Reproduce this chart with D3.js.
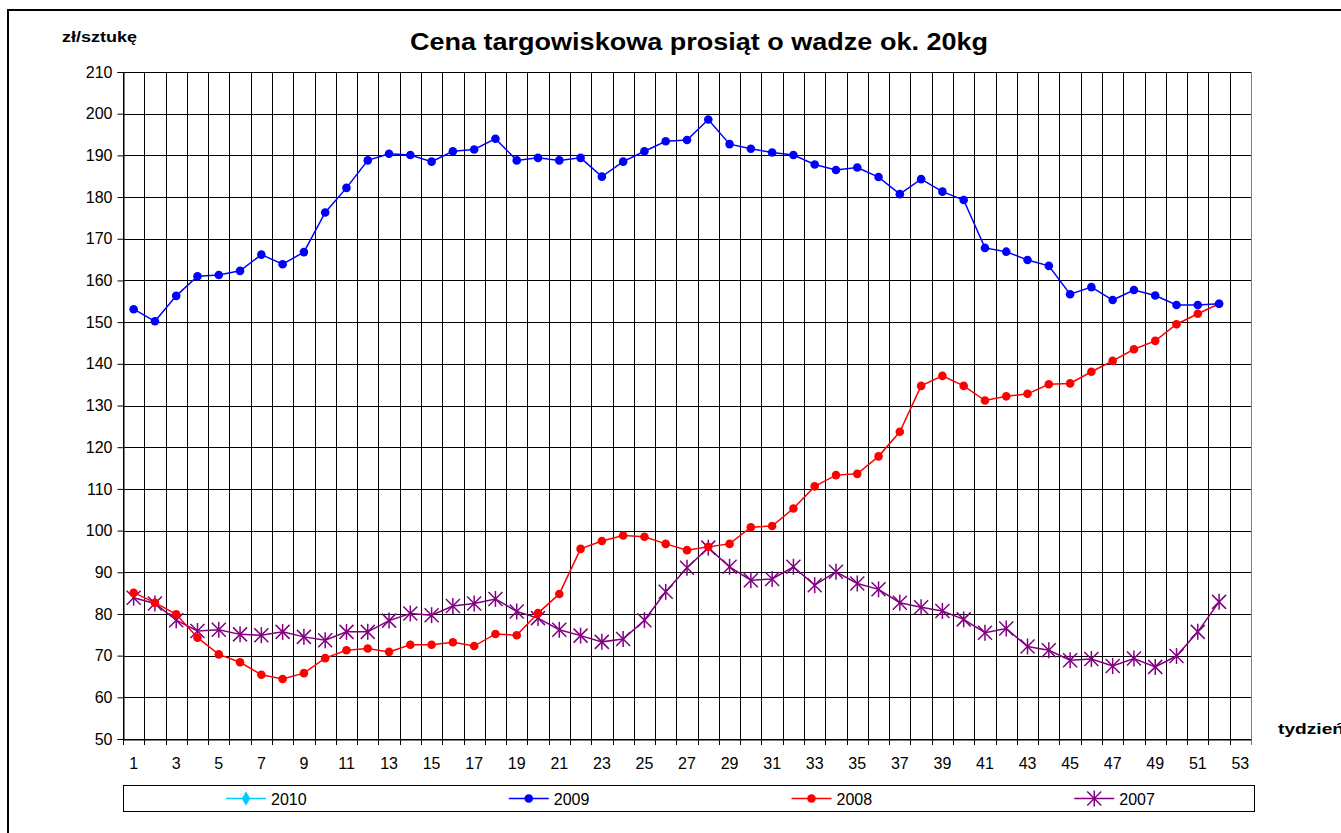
<!DOCTYPE html>
<html>
<head>
<meta charset="utf-8">
<script src="https://cdn.jsdelivr.net/npm/d3@7"></script>
<style>
body { margin: 0; background: #fff; }
svg { font-family: "Liberation Sans", Arial, sans-serif; }
</style>
</head>
<body>
<script>
var weeks = d3.range(1, 54);
var yTicks = d3.range(50, 211, 10);
var xLabels = d3.range(1, 54, 2);
var legendNames = ["2010", "2009", "2008", "2007"];

var s2010 = [];
var s2009 = [153.1, 150.2, 156.3, 161.0, 161.3, 162.3, 166.2, 163.9, 166.8, 176.3,
    182.2, 188.8, 190.4, 190.1, 188.5, 191.0, 191.4, 194.0, 188.8, 189.4,
    188.8, 189.4, 184.9, 188.5, 191.0, 193.4, 193.7, 198.6, 192.7, 191.6,
    190.7, 190.1, 187.8, 186.5, 187.1, 184.8, 180.7, 184.3, 181.3, 179.3,
    167.8, 166.9, 164.9, 163.5, 156.7, 158.4, 155.3, 157.7, 156.4, 154.1,
    154.1, 154.4];
var s2008 = [85.1, 82.7, 79.9, 74.3, 70.3, 68.4, 65.4, 64.4, 65.8, 69.4,
    71.3, 71.7, 70.9, 72.6, 72.6, 73.2, 72.3, 75.2, 74.9, 80.2,
    84.8, 95.6, 97.5, 98.8, 98.5, 96.8, 95.3, 96.1, 96.8, 100.8,
    101.1, 105.3, 110.6, 113.3, 113.6, 117.8, 123.7, 134.7, 137.1, 134.7,
    131.2, 132.2, 132.8, 135.1, 135.3, 138.1, 140.7, 143.5, 145.5, 149.5,
    152.0, 154.4];
var s2007 = [83.9, 82.5, 78.5, 75.9, 76.2, 75.1, 74.9, 75.7, 74.5, 73.7,
    75.7, 75.7, 78.4, 80.1, 79.7, 81.9, 82.5, 83.6, 80.6, 79.0,
    76.2, 74.8, 73.3, 74.0, 78.5, 85.3, 91.1, 95.9, 91.3, 88.1,
    88.4, 91.3, 86.9, 90.1, 87.3, 85.9, 82.7, 81.6, 80.7, 78.7,
    75.5, 76.5, 72.2, 71.3, 68.9, 69.2, 67.5, 69.3, 67.3, 69.9,
    75.7, 82.9];

var W = 1341, H = 833;
var pLeft = 123, pRight = 1251, pTop = 72, pBottom = 739;

var svg = d3.select("body").append("svg")
    .attr("width", W)
    .attr("height", H);

// outer frame
svg.append("rect")
    .attr("x", 8).attr("y", 10)
    .attr("width", 1400).attr("height", 900)
    .attr("fill", "none")
    .attr("stroke", "#000")
    .attr("stroke-width", 2);

var x = d3.scaleBand().domain(weeks).range([pLeft, pRight]);
var y = d3.scaleLinear().domain([50, 210]).range([pBottom, pTop]);
var cx = function (w) { return x(w) + x.bandwidth() / 2; };

// horizontal grid
svg.append("g")
    .selectAll("line")
    .data(yTicks)
    .enter()
    .append("line")
    .attr("x1", pLeft).attr("x2", pRight)
    .attr("y1", function (d) { return Math.round(y(d)) + 0.5; })
    .attr("y2", function (d) { return Math.round(y(d)) + 0.5; })
    .attr("stroke", "#000")
    .attr("stroke-width", 1);

// vertical grid at category boundaries
var bounds = weeks.map(function (w) { return x(w); }).concat([pRight]);
svg.append("g")
    .selectAll("line")
    .data(bounds)
    .enter()
    .append("line")
    .attr("x1", function (d) { return Math.round(d) + 0.5; })
    .attr("x2", function (d) { return Math.round(d) + 0.5; })
    .attr("y1", pTop).attr("y2", pBottom + 6)
    .attr("stroke", function (d, i) { return i == bounds.length - 1 ? "#808080" : "#000"; })
    .attr("stroke-width", 1);

// y axis
var yAxis = d3.axisLeft(y).tickValues(yTicks).tickSize(6).tickPadding(5);
var gy = svg.append("g")
    .attr("transform", "translate(" + (pLeft + 0.5) + ",0)")
    .call(yAxis);
gy.select(".domain").attr("stroke", "#000");
gy.selectAll("text")
    .attr("font-size", "16px")
    .attr("font-family", "Liberation Sans, Arial, sans-serif")
    .attr("fill", "#000");

// x axis labels
var xAxis = d3.axisBottom(x).tickValues(xLabels).tickSize(0).tickPadding(18);
var gx = svg.append("g")
    .attr("transform", "translate(0," + (pBottom + 0.5) + ")")
    .call(xAxis);
gx.select(".domain").attr("stroke", "#000");
gx.selectAll("text")
    .attr("font-size", "16px")
    .attr("font-family", "Liberation Sans, Arial, sans-serif")
    .attr("fill", "#000");

var line = d3.line()
    .x(function (d, i) { return cx(weeks[i]); })
    .y(function (d) { return y(d); });

function drawStar(g, px, py, col) {
    var r = 7;
    g.append("line").attr("x1", px).attr("x2", px).attr("y1", py - r - 1).attr("y2", py + r + 1)
        .attr("stroke", col).attr("stroke-width", 1.5);
    g.append("line").attr("x1", px - r).attr("x2", px + r).attr("y1", py - r).attr("y2", py + r)
        .attr("stroke", col).attr("stroke-width", 1.5);
    g.append("line").attr("x1", px - r).attr("x2", px + r).attr("y1", py + r).attr("y2", py - r)
        .attr("stroke", col).attr("stroke-width", 1.5);
}

// 2007
var g7 = svg.append("g");
g7.append("path").datum(s2007).attr("d", line)
    .attr("fill", "none").attr("stroke", "#800080").attr("stroke-width", 1.5);
s2007.forEach(function (d, i) { drawStar(g7, cx(weeks[i]), y(d), "#800080"); });

// 2008
var g8 = svg.append("g");
g8.append("path").datum(s2008).attr("d", line)
    .attr("fill", "none").attr("stroke", "#ff0000").attr("stroke-width", 1.5);
g8.selectAll("circle").data(s2008).enter().append("circle")
    .attr("cx", function (d, i) { return cx(weeks[i]); })
    .attr("cy", function (d) { return y(d); })
    .attr("r", 4.3).attr("fill", "#ff0000");

// 2009
var g9 = svg.append("g");
g9.append("path").datum(s2009).attr("d", line)
    .attr("fill", "none").attr("stroke", "#0000ff").attr("stroke-width", 1.5);
g9.selectAll("circle").data(s2009).enter().append("circle")
    .attr("cx", function (d, i) { return cx(weeks[i]); })
    .attr("cy", function (d) { return y(d); })
    .attr("r", 4.3).attr("fill", "#0000ff");

// 2010 (no data)
svg.append("g").append("path").datum(s2010).attr("d", line)
    .attr("fill", "none").attr("stroke", "#00ccff");

// titles
svg.append("text").text("Cena targowiskowa prosiąt o wadze ok. 20kg")
    .attr("x", 699).attr("y", 50)
    .attr("text-anchor", "middle")
    .attr("font-size", "24px").attr("font-weight", "bold")
    .attr("textLength", 578).attr("lengthAdjust", "spacingAndGlyphs");
svg.append("text").text("zł/sztukę")
    .attr("x", 62).attr("y", 42)
    .attr("font-size", "14px").attr("font-weight", "bold")
    .attr("textLength", 75).attr("lengthAdjust", "spacingAndGlyphs");
svg.append("text").text("tydzień")
    .attr("x", 1278).attr("y", 734)
    .attr("font-size", "14px").attr("font-weight", "bold")
    .attr("textLength", 66).attr("lengthAdjust", "spacingAndGlyphs");

// legend
var lg = svg.append("g");
lg.append("rect")
    .attr("x", 123.5).attr("y", 785.5)
    .attr("width", 1131).attr("height", 26)
    .attr("fill", "#fff").attr("stroke", "#000").attr("stroke-width", 1);
var cols = ["#00ccff", "#0000ff", "#ff0000", "#800080"];
var slot = 1131 / 4;
legendNames.forEach(function (name, i) {
    var lx = 123 + i * slot + 103;
    var ly = 798.5;
    lg.append("line").attr("x1", lx).attr("x2", lx + 40).attr("y1", ly).attr("y2", ly)
        .attr("stroke", cols[i]).attr("stroke-width", 1.5);
    if (i == 0) {
        lg.append("path").attr("d", d3.symbol().type(d3.symbolDiamond).size(60)())
            .attr("transform", "translate(" + (lx + 20) + "," + ly + ")")
            .attr("fill", cols[i]);
    } else if (i == 3) {
        drawStar(lg, lx + 20, ly, cols[i]);
    } else {
        lg.append("circle").attr("cx", lx + 20).attr("cy", ly).attr("r", 4.3).attr("fill", cols[i]);
    }
    lg.append("text").text(name)
        .attr("x", lx + 45).attr("y", ly + 6)
        .attr("font-size", "16px").attr("fill", "#000");
});
</script>
</body>
</html>
